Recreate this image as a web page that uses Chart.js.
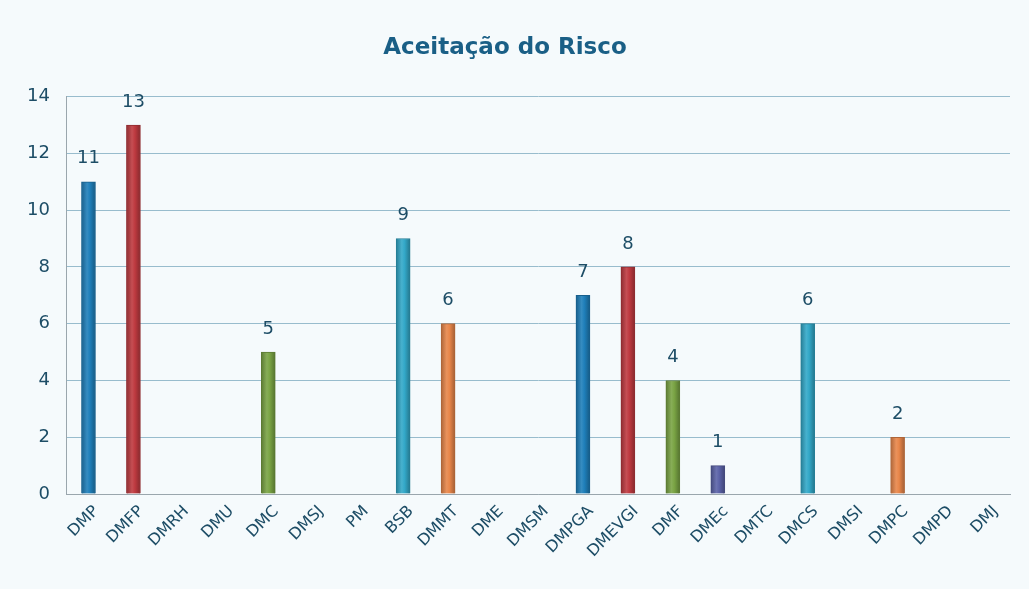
<!DOCTYPE html>
<html>
<head>
<meta charset="utf-8">
<script src="https://cdn.jsdelivr.net/npm/chart.js@4/dist/chart.umd.min.js"></script>
<style>
html,body{margin:0;padding:0;background:#f5fafc;}
#wrap{width:1029px;height:589px;position:relative;}
</style>
</head>
<body>
<div id="wrap"><canvas id="c" width="1029" height="589"></canvas></div>
<script>
const title = "Aceitação do Risco";
const categories = ["DMP","DMFP","DMRH","DMU","DMC","DMSJ","PM","BSB","DMMT","DME","DMSM","DMPGA","DMEVGI","DMF","DMEc","DMTC","DMCS","DMSI","DMPC","DMPD","DMJ"];
const values = [11,13,0,0,5,0,0,9,6,0,0,7,8,4,1,0,6,0,2,0,0];
const barColors = ["#1f7fba","#bf3a40","#1f7fba","#bf3a40","#7aa444","#5b62a8","#5b62a8","#33a8c8","#e8864a","#5b62a8","#5b62a8","#1f7fba","#bf3a40","#7aa444","#5b62a8","#33a8c8","#33a8c8","#e8864a","#e8864a","#1f7fba","#1f7fba"];
const yMax = 14, yStep = 2;

const textColor = "#1d4d66";

function shade(hex, f){
  const n = parseInt(hex.slice(1),16);
  let r=(n>>16)&255,g=(n>>8)&255,b=n&255;
  const t = f<0?0:255, p=Math.abs(f);
  r=Math.round((t-r)*p+r);g=Math.round((t-g)*p+g);b=Math.round((t-b)*p+b);
  return `rgb(${r},${g},${b})`;
}

const valueLabels = {
  id:'valueLabels',
  afterDatasetsDraw(chart){
    const ctx = chart.ctx;
    const meta = chart.getDatasetMeta(0);
    ctx.save();
    ctx.font = "18px 'DejaVu Sans'";
    ctx.fillStyle = textColor;
    ctx.textAlign = 'center';
    ctx.textBaseline = 'middle';
    meta.data.forEach((bar,i)=>{
      const v = values[i];
      if(!v) return;
      ctx.fillText(String(v), bar.x, bar.y - 23);
    });
    ctx.restore();
  }
};

const bgPlugin = {
  id:'bg',
  beforeDraw(chart){
    const ctx = chart.ctx;
    ctx.save();
    ctx.fillStyle = '#f5fafc';
    ctx.fillRect(0,0,chart.width,chart.height);
    ctx.restore();
  }
};

new Chart(document.getElementById('c'), {
  type:'bar',
  data:{
    labels: categories,
    datasets:[{
      data: values,
      barThickness: 14,
      borderWidth: 1,
      borderColor: (ctx)=>shade(barColors[ctx.dataIndex], -0.25),
      backgroundColor: (ctx)=>{
        const chart = ctx.chart;
        const c = barColors[ctx.dataIndex];
        if(!chart.chartArea) return c;
        const x = chart.scales.x.getPixelForValue(ctx.dataIndex);
        const g = chart.ctx.createLinearGradient(x-7,0,x+7,0);
        g.addColorStop(0, shade(c,-0.25));
        g.addColorStop(0.4, shade(c,0.1));
        g.addColorStop(0.6, c);
        g.addColorStop(1, shade(c,-0.3));
        return g;
      }
    }]
  },
  options:{
    responsive:false,
    animation:false,
    devicePixelRatio:1,
    layout:{padding:{left:0,right:19,top:0,bottom:0}},
    plugins:{
      legend:{display:false},
      tooltip:{enabled:false},
      title:{
        display:true,
        text:title,
        color:'#1a5f86',
        font:{family:"'DejaVu Sans'",size:23,weight:'bold',lineHeight:1.2},
        padding:{top:34,bottom:35}
      }
    },
    scales:{
      x:{
        grid:{display:false, drawTicks:false},
        border:{display:true,color:'#9aa6ad',width:1},
        ticks:{
          color:textColor,
          font:{family:"'DejaVu Sans'",size:16},
          maxRotation:45,minRotation:45,
          padding:8,
          labelOffset:8,
          autoSkip:false
        },
        afterFit(scale){ scale.height = 95; }
      },
      y:{
        min:0,max:yMax,
        ticks:{
          stepSize:yStep,
          color:textColor,
          font:{family:"'DejaVu Sans'",size:18},
          padding:16
        },
        grid:{color:'#98bccd',lineWidth:1,drawTicks:false},
        border:{display:true,color:'#9aa6ad',width:1},
        afterFit(scale){ scale.width = 66; }
      }
    }
  },
  plugins:[bgPlugin, valueLabels]
});
</script>
</body>
</html>
